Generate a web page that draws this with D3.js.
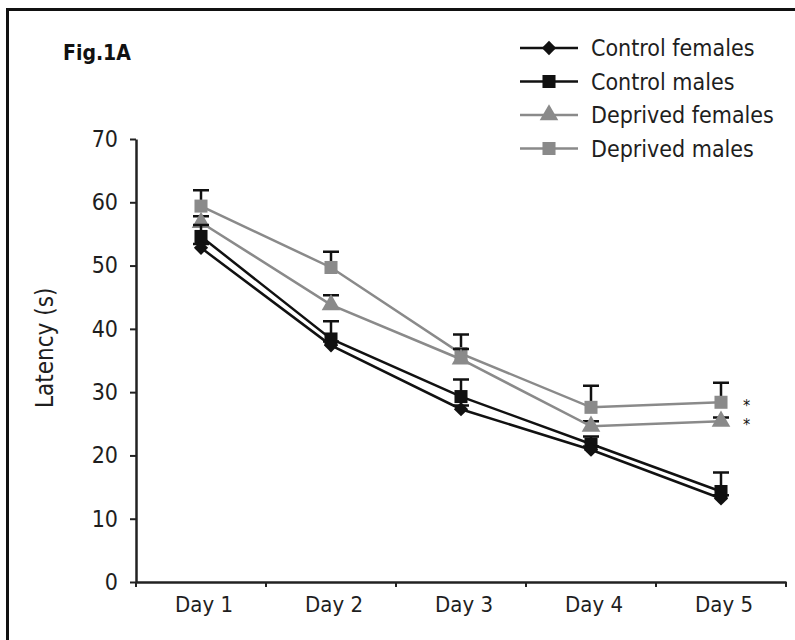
<!DOCTYPE html>
<html>
<head>
<meta charset="utf-8">
<script src="https://cdn.jsdelivr.net/npm/d3@7"></script>
<style>
  body { margin: 0; background: #fff; }
  text { font-family: "DejaVu Sans Condensed", "Open Sans", sans-serif; fill: #1e1e1e; }
</style>
</head>
<body>
<div class="chart"></div>
<script>
let svgWidth = 795;
let svgHeight = 640;

let margin = { top: 139, right: 9, bottom: 58, left: 136 };
let width = svgWidth - margin.left - margin.right;
let height = svgHeight - margin.top - margin.bottom;

// data
let days = ["Day 1", "Day 2", "Day 3", "Day 4", "Day 5"];
let seriesNames = ["Control females", "Control males", "Deprived females", "Deprived males"];
let controlFemales = [52.8, 37.4, 27.3, 20.9, 13.2];
let controlMales = [54.6, 38.4, 29.3, 21.8, 14.3];
let deprivedFemales = [56.8, 43.8, 35.2, 24.6, 25.4];
let deprivedMales = [59.4, 49.7, 36.1, 27.6, 28.4];
let controlFemalesErr = [0.6, 0.6, 0.6, 0.5, 0.5];
let controlMalesErr = [1.8, 2.8, 2.7, 1.2, 3.0];
let deprivedFemalesErr = [1.0, 1.5, 1.6, 0.8, 0.6];
let deprivedMalesErr = [2.5, 2.5, 3.0, 3.4, 3.1];
let yTicks = [0, 10, 20, 30, 40, 50, 60, 70];
let starred = ["Deprived females", "Deprived males"];

let series = [
  { name: seriesNames[0], values: controlFemales, err: controlFemalesErr, color: "#111", shape: "diamond" },
  { name: seriesNames[1], values: controlMales, err: controlMalesErr, color: "#111", shape: "square" },
  { name: seriesNames[2], values: deprivedFemales, err: deprivedFemalesErr, color: "#8a8a8a", shape: "triangle" },
  { name: seriesNames[3], values: deprivedMales, err: deprivedMalesErr, color: "#8a8a8a", shape: "square" }
];

let svg = d3.select(".chart")
  .append("svg")
  .attr("width", svgWidth)
  .attr("height", svgHeight);

// frame
svg.append("rect")
  .attr("x", 7.5).attr("y", 9.5)
  .attr("width", 820).attr("height", 700)
  .attr("fill", "none")
  .attr("stroke", "#111")
  .attr("stroke-width", 3);

let chartGroup = svg.append("g")
  .attr("transform", `translate(${margin.left}, ${margin.top})`);

let x = d3.scaleBand()
  .domain(days)
  .range([0, width]);

let y = d3.scaleLinear()
  .domain([0, 70])
  .range([height, 0]);

function symbolFor(shape) {
  if (shape === "diamond") return d3.symbol().type(d3.symbolDiamond2).size(130)();
  if (shape === "triangle") return d3.symbol().type(d3.symbolTriangle).size(150)();
  return d3.symbol().type(d3.symbolSquare).size(170)();
}

// axes
let xAxis = chartGroup.append("g")
  .attr("transform", `translate(0, ${height})`)
  .call(d3.axisBottom(x).tickSize(0).tickPadding(14));
xAxis.selectAll("text").attr("font-size", 22).attr("dx", 3);
xAxis.select(".domain").attr("stroke", "#222").attr("stroke-width", 2.5);
xAxis.selectAll(".bound")
  .data(d3.range(days.length + 1))
  .enter()
  .append("line")
  .attr("class", "bound")
  .attr("x1", i => i * x.step())
  .attr("x2", i => i * x.step())
  .attr("y1", 0).attr("y2", 5)
  .attr("stroke", "#222").attr("stroke-width", 2);

let yAxis = chartGroup.append("g")
  .call(d3.axisLeft(y).tickValues(yTicks).tickSize(6).tickSizeOuter(0).tickPadding(12));
yAxis.selectAll("text").attr("font-size", 23);
yAxis.select(".domain").attr("stroke", "#222").attr("stroke-width", 2.5);
yAxis.selectAll(".tick line").attr("stroke", "#222").attr("stroke-width", 2);

chartGroup.append("text")
  .attr("transform", "rotate(-90)")
  .attr("x", -(y(37)))
  .attr("y", -83)
  .attr("text-anchor", "middle")
  .attr("font-size", 24)
  .text("Latency (s)");

let line = d3.line()
  .x((d, i) => x(days[i]) + x.bandwidth() / 2)
  .y(d => y(d));

// draw back to front so control series sit on top
series.slice().reverse().forEach(s => {
  let g = chartGroup.append("g");
  g.selectAll(".err")
    .data(s.values)
    .enter()
    .append("path")
    .attr("d", (d, i) => {
      let cx = x(days[i]) + x.bandwidth() / 2;
      let top = y(d + s.err[i]);
      return `M${cx},${y(d)}V${top}M${cx - 8},${top}H${cx + 8}`;
    })
    .attr("fill", "none")
    .attr("stroke", "#111")
    .attr("stroke-width", 2.5);
  g.append("path")
    .datum(s.values)
    .attr("d", line)
    .attr("fill", "none")
    .attr("stroke", s.color)
    .attr("stroke-width", 2.5);
  g.selectAll(".pt")
    .data(s.values)
    .enter()
    .append("path")
    .attr("transform", (d, i) => `translate(${x(days[i]) + x.bandwidth() / 2}, ${y(d)})`)
    .attr("d", symbolFor(s.shape))
    .attr("fill", s.color);
});

// significance marks
chartGroup.selectAll(".star")
  .data(series.filter(s => starred.includes(s.name)))
  .enter()
  .append("text")
  .attr("x", x(days[4]) + x.bandwidth() / 2 + 22)
  .attr("y", s => y(s.values[4]) + 9)
  .attr("font-size", 16)
  .style("fill", "#111")
  .text("*");

// legend
let legend = svg.append("g").attr("transform", "translate(520, 48)");
let rows = legend.selectAll(".row")
  .data(series)
  .enter()
  .append("g")
  .attr("transform", (d, i) => `translate(0, ${i * 33.5})`);
rows.append("line")
  .attr("x1", 0).attr("x2", 58)
  .attr("stroke", d => d.color)
  .attr("stroke-width", 2.5);
rows.append("path")
  .attr("transform", "translate(29, 0)")
  .attr("d", d => symbolFor(d.shape))
  .attr("fill", d => d.color);
rows.append("text")
  .attr("x", 71)
  .attr("dy", "0.35em")
  .attr("font-size", 23)
  .text(d => d.name);

svg.append("text")
  .attr("x", 63).attr("y", 60)
  .attr("font-size", 21)
  .attr("font-weight", "bold")
  .style("fill", "#111")
  .text("Fig.1A");
</script>
</body>
</html>
